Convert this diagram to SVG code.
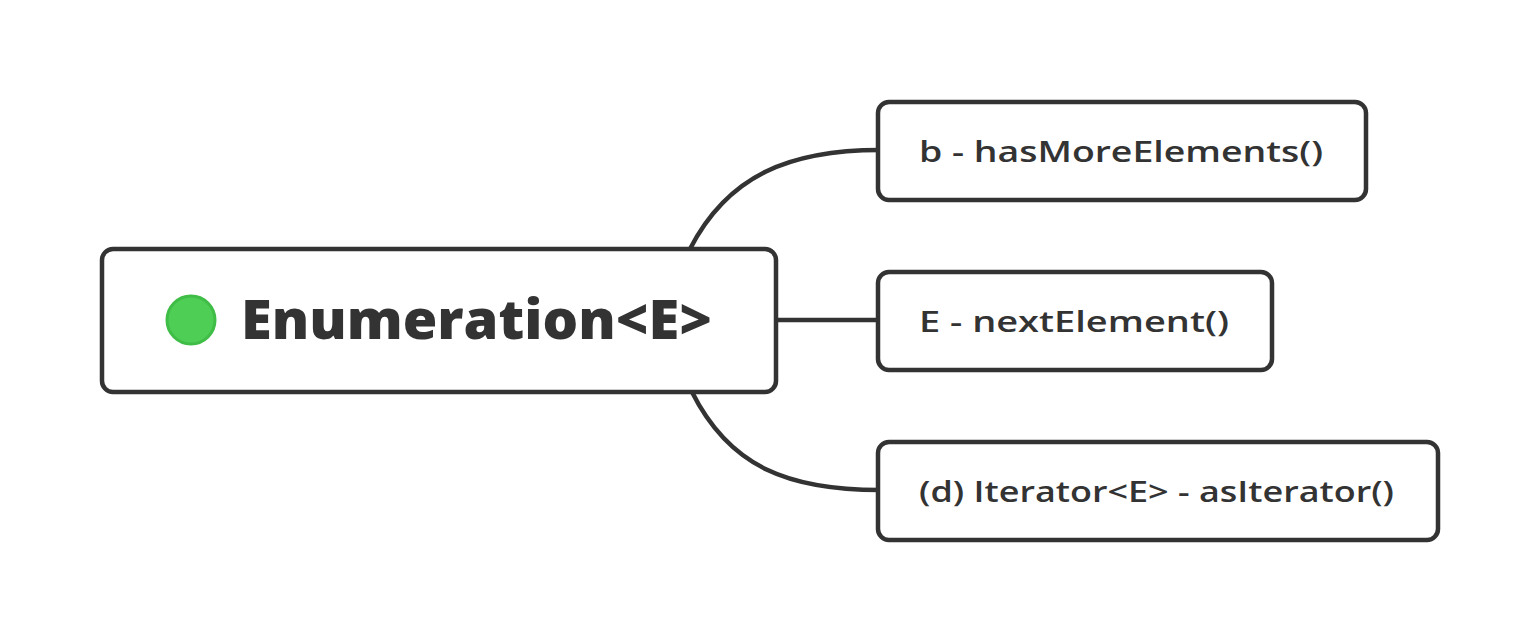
<svg xmlns="http://www.w3.org/2000/svg" width="1538" height="640" viewBox="0 0 1538 640">
<style>
.box{fill:#fff;stroke:#333;stroke-width:4.5}
.conn{fill:none;stroke:#333;stroke-width:4.5}
.t{font-family:"Open Sans","Liberation Sans",sans-serif;fill:#333}
.root{font-size:54px;font-weight:800}
.child{font-size:28px;font-weight:600}
</style>
<rect width="1538" height="640" fill="#fff"/>
<g id="connectors">
<path class="conn" d="M690,249 C728,175 790,150 880,150"/>
<path class="conn" d="M776,320 L880,320"/>
<path class="conn" d="M692,392 C730,468 790,490 880,490"/>
</g>
<g id="root">
<rect class="box" x="102" y="249" width="674" height="143" rx="11"/>
<circle cx="191" cy="320" r="24" fill="#4fce56" stroke="#3fbd47" stroke-width="3"/>
<text class="t root" x="241" y="339" textLength="471" lengthAdjust="spacingAndGlyphs">Enumeration&lt;E&gt;</text>
</g>
<g id="n1">
<rect class="box" x="878" y="102" width="488" height="98" rx="11"/>
<text class="t child" x="919" y="162" textLength="404" lengthAdjust="spacingAndGlyphs">b - hasMoreElements()</text>
</g>
<g id="n2">
<rect class="box" x="878" y="272" width="394" height="98" rx="11"/>
<text class="t child" x="919" y="332" textLength="310" lengthAdjust="spacingAndGlyphs">E - nextElement()</text>
</g>
<g id="n3">
<rect class="box" x="878" y="442" width="560" height="98" rx="11"/>
<text class="t child" x="919" y="502" textLength="475" lengthAdjust="spacingAndGlyphs">(d) Iterator&lt;E&gt; - asIterator()</text>
</g>
</svg>
